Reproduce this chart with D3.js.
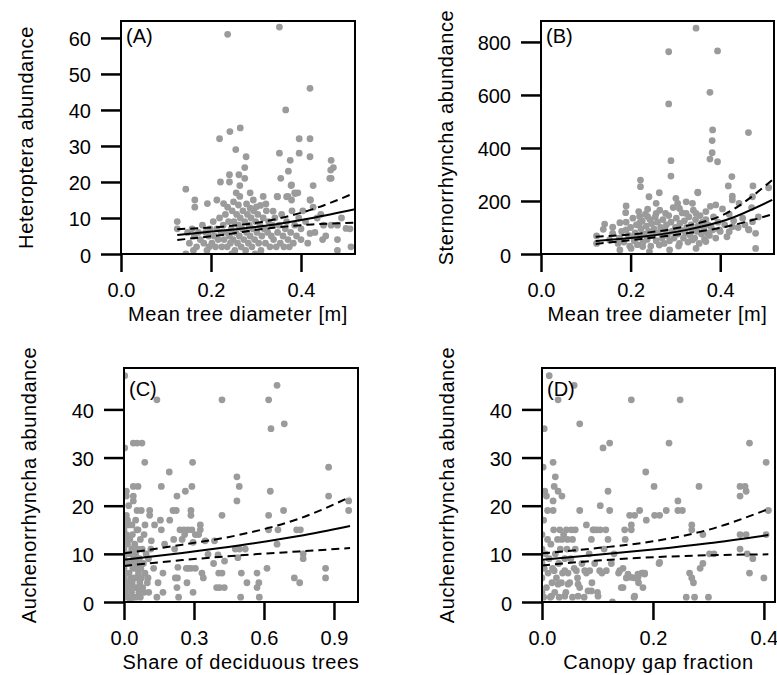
<!DOCTYPE html>
<html><head><meta charset="utf-8">
<script src="https://cdn.jsdelivr.net/npm/d3@7"></script>
<style>
body{margin:0;background:#fff}
text{font-family:"Liberation Sans",Arial,Helvetica,sans-serif;fill:#000}
</style>
</head><body>
<svg id="chart" width="777" height="675"></svg>
<script>
// ---------- Data ----------
const panelLetters = ["(A)", "(B)", "(C)", "(D)"];
const xTitles = ["Mean tree diameter [m]", "Mean tree diameter [m]", "Share of deciduous trees", "Canopy gap fraction"];
const yTitles = ["Heteroptera abundance", "Sternorrhyncha abundance", "Auchenorrhyncha abundance", "Auchenorrhyncha abundance"];

const xTicksA = [0.0, 0.2, 0.4];
const yTicksA = [0, 10, 20, 30, 40, 50, 60];
const xTicksB = [0.0, 0.2, 0.4];
const yTicksB = [0, 200, 400, 600, 800];
const xTicksC = [0.0, 0.3, 0.6, 0.9];
const yTicksC = [0, 10, 20, 30, 40];
const xTicksD = [0.0, 0.2, 0.4];
const yTicksD = [0, 10, 20, 30, 40];

// Panel A: Heteroptera vs mean tree diameter
const pointsA = [
[0.237,61],[0.352,63],[0.420,46],[0.366,40],
[0.219,32],[0.242,34],[0.265,35],[0.352,28],[0.396,32],[0.420,32],
[0.255,29],[0.278,27],[0.376,26],[0.396,28],[0.420,27],[0.467,26],[0.472,24],[0.467,21],
[0.372,23],[0.355,21],[0.275,24],[0.241,22],[0.262,22],[0.275,21],[0.241,20],[0.221,20],[0.264,19],
[0.144,18],[0.378,19],[0.427,19],[0.386,17],[0.393,17],[0.371,16],[0.347,16],[0.420,15],[0.427,13],
[0.164,15],[0.164,13],[0.192,14],[0.213,15],[0.256,17],[0.287,17],[0.294,15],[0.316,16],[0.264,16],[0.250,14.5],
[0.237,13],[0.261,13.6],[0.279,13.9],[0.287,12.7],[0.301,13.1],[0.322,13.9],[0.338,11.9],[0.348,15.9],
[0.379,15],[0.368,15.9],[0.379,19.2],[0.387,16.8],[0.421,15],[0.464,21],[0.466,23.3],
[0.125,9],[0.125,7],[0.467,8],[0.481,8],[0.509,7],[0.431,6],[0.400,7],[0.400,4],[0.448,4],[0.481,4],[0.481,1],[0.511,2],
[0.144,0],[0.246,0],[0.298,0],[0.196,2],[0.161,1],[0.420,5.7],[0.450,8],[0.500,7.1],
[0.148,6],[0.152,3],[0.158,7],[0.163,5],[0.168,2],[0.172,6],[0.176,4],[0.181,8],[0.184,3],[0.188,6],
[0.191,1],[0.195,5],[0.198,7],[0.202,3],[0.205,9],[0.207,5],[0.210,2],[0.213,7],[0.216,4],[0.219,10],
[0.222,6],[0.224,2],[0.227,8],[0.229,4],[0.232,11],[0.234,6],[0.236,2],[0.239,9],[0.241,5],[0.243,3],
[0.245,7],[0.247,12],[0.249,4],[0.251,9],[0.253,1],[0.255,6],[0.257,11],[0.259,3],[0.261,8],[0.263,5],
[0.265,10],[0.267,2],[0.269,7],[0.271,12],[0.273,4],[0.275,9],[0.277,1],[0.279,6],[0.281,11],[0.283,3],
[0.285,8],[0.287,5],[0.289,10],[0.291,2],[0.293,7],[0.295,12],[0.297,4],[0.299,9],[0.302,6],[0.304,11],
[0.306,3],[0.309,8],[0.311,1],[0.313,5],[0.316,10],[0.318,7],[0.321,3],[0.323,12],[0.326,6],[0.328,9],
[0.331,2],[0.334,5],[0.336,8],[0.339,4],[0.342,10],[0.345,2],[0.348,6],[0.351,8],[0.354,3],[0.357,11],
[0.360,5],[0.362,2],[0.365,7],[0.368,9],[0.371,4],[0.374,2],[0.377,6],[0.380,12],[0.383,3],[0.386,8],
[0.390,5],[0.395,10],[0.404,12],[0.410,9],[0.415,3],[0.436,10],[0.444,11],[0.455,5],[0.490,10],[0.228,14],[0.310,13.5]
];
const edgePointsA = [[0.53,31],[0.53,17]];
const fitXA = [0.125, 0.225, 0.325, 0.425, 0.52];
const fitA = [5.3, 6.5, 7.9, 10.0, 12.4];
const upperA = [6.9, 7.6, 9.2, 12.4, 17.0];
const lowerA = [3.9, 5.3, 7.1, 8.2, 8.7];

// Panel B: Sternorrhyncha vs mean tree diameter
const pointsB = [
[0.346,852],[0.285,763],[0.394,766],[0.377,610],[0.285,566],[0.383,468],[0.382,428],[0.382,382],[0.377,358],[0.394,348],
[0.463,458],[0.290,352],[0.290,294],[0.350,233],[0.426,292],[0.418,257],[0.427,218],[0.473,257],[0.508,250],
[0.222,279],[0.222,254],[0.241,216],[0.264,231],[0.190,181],[0.189,156],[0.142,113],[0.139,93],[0.160,101],[0.176,118],
[0.124,40],[0.124,68],[0.220,141],[0.220,116],[0.238,169],[0.238,141],[0.257,191],[0.257,153],[0.278,153],[0.301,210],
[0.305,191],[0.324,197],[0.309,172],[0.338,191],[0.350,231],[0.324,153],[0.346,153],[0.368,160],[0.390,185],
[0.427,204],[0.442,191],[0.472,216],[0.464,91],[0.479,78],[0.479,21],[0.398,91],[0.420,84],[0.427,103],[0.383,91],
[0.368,47],[0.346,21],[0.338,53],[0.309,40],[0.287,15],[0.264,34],[0.242,9],[0.227,28],[0.201,21],[0.176,15],
[0.172,40],[0.153,53],[0.160,78],[0.190,91],[0.205,65],[0.463,93],[0.472,122],[0.450,135],
[0.175,60],[0.180,85],[0.185,45],[0.190,120],[0.195,70],[0.198,30],[0.200,100],[0.205,135],[0.208,50],[0.210,80],
[0.213,110],[0.215,35],[0.218,160],[0.220,65],[0.223,95],[0.226,125],[0.228,45],[0.230,75],[0.233,150],[0.235,105],
[0.237,55],[0.240,85],[0.243,130],[0.245,30],[0.247,115],[0.250,70],[0.252,95],[0.255,140],[0.257,50],[0.260,120],
[0.262,80],[0.265,165],[0.267,100],[0.270,60],[0.272,130],[0.275,40],[0.277,90],[0.280,110],[0.282,70],[0.285,145],
[0.287,50],[0.290,120],[0.292,85],[0.295,175],[0.297,60],[0.300,100],[0.302,135],[0.305,75],[0.307,30],[0.310,115],
[0.312,90],[0.315,155],[0.318,60],[0.320,125],[0.322,80],[0.325,100],[0.328,45],[0.330,140],[0.333,70],[0.335,110],
[0.338,90],[0.340,165],[0.343,60],[0.345,130],[0.348,85],[0.350,105],[0.353,40],[0.355,145],[0.358,75],[0.360,120],
[0.363,95],[0.365,55],[0.368,130],[0.370,80],[0.373,110],[0.376,70],[0.378,180],[0.380,100],[0.385,140],[0.390,60],
[0.395,120],[0.400,85],[0.405,170],[0.410,110],[0.415,65],[0.420,150],[0.430,125],[0.440,100],[0.455,110],[0.470,175],[0.485,140]
];
const edgePointsB = [[0.53,245],[0.53,268],[0.53,194],[0.53,156],[0.53,280]];
const fitXB = [0.122, 0.225, 0.325, 0.413, 0.516];
const fitB = [49, 65, 91, 128, 204];
const upperB = [65, 78, 106, 153, 279];
const lowerB = [38, 57, 78, 103, 150];

// Panel C: Auchenorrhyncha vs share of deciduous trees
const pointsC = [
[0.003,47],[0.141,42],[0.420,42],[0.620,42],[0.656,45],[0.630,36],[0.687,37],[0.003,32],[0.040,33],[0.056,33],[0.077,33],
[0.089,29],[0.194,27],[0.294,29],[0.291,24],[0.263,23],[0.227,22],[0.160,24],[0.010,23],[0.010,22],[0.040,24],[0.060,24],
[0.040,22],[0.040,21],[0.484,26],[0.494,24],[0.484,21],[0.420,18],[0.627,23],[0.620,18],[0.684,19],[0.877,28],[0.877,22],
[0.963,21],[0.963,19],
[0.010,18],[0.056,19],[0.074,19],[0.110,19],[0.210,19],[0.224,19],[0.287,19],[0.287,18],[0.156,17],[0.196,17],[0.110,18],
[0.131,16],[0.086,14],[0.034,16],[0.060,15],[0.240,15],[0.257,15],[0.274,15],[0.291,15],[0.327,15],[0.327,16],[0.306,14],
[0.320,14],[0.260,14],[0.213,13],[0.249,13],[0.160,15],[0.117,12.7],[0.174,12],[0.217,11],[0.296,12.4],[0.348,12.7],
[0.388,12.7],[0.495,11],[0.360,9.9],[0.403,9.8],[0.431,8.5],[0.488,9.2],
[0.620,15],[0.660,15],[0.740,15],[0.756,15],[0.768,10],[0.768,9],[0.730,5],[0.753,4],[0.864,7],[0.864,5],[0.656,12],
[0.613,7],[0.570,6],[0.578,4],[0.570,3],[0.580,1],[0.527,4],[0.503,6],[0.500,1],[0.477,11],[0.406,6],[0.420,6],[0.397,3],
[0.410,3],[0.430,3],[0.384,8],[0.334,6],[0.340,5],[0.296,2],[0.306,7],[0.276,7],[0.288,7],[0.270,4],[0.227,3],[0.234,1],
[0.220,5],[0.167,6],[0.167,2],[0.141,1],[0.106,2],[0.127,7],[0.231,7.2],[0.267,7],[0.229,5],[0.103,5],[0.146,4],[0.520,11],
[0.000,1],[0.000,3],[0.000,5],[0.000,7],[0.000,9],[0.000,11],[0.000,13],[0.000,15],[0.005,2],[0.006,6],[0.008,10],[0.010,14],
[0.012,4],[0.014,8],[0.015,12],[0.016,1],[0.018,16],[0.020,3],[0.022,6],[0.024,10],[0.025,13],[0.027,0.5],[0.028,5],[0.030,8],
[0.032,2],[0.033,11],[0.035,4],[0.036,14],[0.038,7],[0.040,1],[0.042,9],[0.044,5],[0.046,12],[0.047,3],[0.049,7],[0.050,10],
[0.052,1],[0.054,5],[0.056,8],[0.058,3],[0.060,11],[0.062,6],[0.064,2],[0.066,9],[0.068,4],[0.070,1],[0.072,7],[0.075,5],
[0.078,11],[0.080,3],[0.083,8],[0.086,2],[0.090,6],[0.095,10],[0.100,4],[0.105,9],[0.115,11],[0.070,13],[0.055,15],[0.090,16],
[0.020,20],[0.015,17],[0.050,17]
];
const fitXC = [0.0, 0.25, 0.5, 0.75, 0.969];
const fitC = [8.8, 10.2, 11.8, 13.7, 15.8];
const upperC = [10.1, 11.9, 14.0, 17.3, 21.8];
const lowerC = [7.5, 8.7, 9.7, 10.5, 11.2];

// Panel D: Auchenorrhyncha vs canopy gap fraction
const pointsD = [
[0.013,47],[0.058,45],[0.029,42],[0.161,42],[0.249,42],[0.004,36],[0.068,37],[0.110,32],[0.122,33],[0.229,33],[0.374,33],
[0.002,28],[0.020,29],[0.187,27],[0.404,29],[0.024,26],[0.022,24],[0.029,23],[0.036,22],[0.119,23],[0.202,24],[0.283,24],
[0.357,24],[0.357,22],[0.368,23],[0.366,24],[0.005,23],[0.008,22],[0.020,21],[0.020,19],[0.068,19],[0.105,20],[0.122,19],
[0.158,18],[0.167,18],[0.176,19],[0.188,17],[0.203,18],[0.212,18],[0.224,19],[0.245,19],[0.253,19],[0.245,21],[0.408,19],
[0.161,16],[0.149,15],[0.161,15],[0.094,15],[0.099,15],[0.105,15],[0.115,15],[0.270,15],[0.270,16],[0.290,14],[0.357,14],
[0.368,14],[0.404,14],[0.357,11],[0.370,10],[0.380,9],[0.302,10],[0.310,10],[0.290,8],[0.285,7],[0.266,6],[0.270,5],
[0.273,4],[0.260,1],[0.275,1],[0.300,1],[0.211,8],[0.185,6],[0.182,6],[0.180,6],[0.174,4],[0.182,3],[0.166,1],[0.127,0],
[0.146,3],[0.146,7],[0.152,5],[0.167,5],[0.374,6],[0.400,5],[0.080,16],[0.092,15],[0.032,15],[0.044,15],[0.053,15],
[0.060,15],[0.046,13],[0.055,13],[0.089,13],[0.119,13],[0.150,13],[0.212,8.2],[0.036,13],
[0.022,6.5],[0.041,6.5],[0.062,6.5],[0.077,6.5],[0.086,6.5],[0.104,6.5],[0.116,6.5],[0.140,6.5],[0.155,5.8],[0.173,5.8],
[0.185,5.8],[0.029,3.7],[0.047,3.7],[0.065,3.7],[0.089,2.3],[0.017,1.2],[0.041,1.2],[0.065,1.2],[0.101,1.2],[0.167,1.2],
[0.083,2.3],[0.143,3],[0.161,5.1],[0.173,5.1],
[0.000,2],[0.000,5],[0.000,8],[0.000,11],[0.000,14],[0.003,1],[0.004,7],[0.006,10],[0.008,3],[0.010,13],[0.011,6],
[0.013,9],[0.015,1],[0.016,12],[0.018,4],[0.019,7],[0.021,15],[0.023,2],[0.024,10],[0.026,5],[0.028,13],[0.030,8],
[0.031,1],[0.033,11],[0.035,4],[0.037,6],[0.039,14],[0.041,9],[0.043,2],[0.045,11],[0.047,6],[0.050,4],[0.052,9],
[0.055,1],[0.058,7],[0.060,11],[0.064,5],[0.068,3],[0.072,8],[0.076,1],[0.080,6],[0.085,10],[0.090,4],[0.095,8],
[0.100,2],[0.108,6],[0.112,11],[0.125,8],[0.130,10],[0.138,6],[0.003,17],[0.010,19]
];
const fitXD = [0.0, 0.1, 0.2, 0.3, 0.408];
const fitD = [8.8, 9.8, 10.9, 12.2, 13.9];
const upperD = [10.1, 11.2, 12.6, 15.0, 19.3];
const lowerD = [7.6, 8.6, 9.3, 9.7, 9.9];

// ---------- Layout ----------
const panels = [
  {box:[121,21,355,254], xd:[0,0.52], yd:[0,64.7], xt:xTicksA, yt:yTicksA, xf:d3.format(".1f"),
   pts:pointsA, edge:edgePointsA, fx:fitXA, fit:fitA, up:upperA, lo:lowerA, labDy:22},
  {box:[541,21,774,254], xd:[0,0.52], yd:[0,879], xt:xTicksB, yt:yTicksB, xf:d3.format(".1f"),
   pts:pointsB, edge:edgePointsB, fx:fitXB, fit:fitB, up:upperB, lo:lowerB, labDy:22},
  {box:[124,368,358,602], xd:[0,1.003], yd:[0,48.6], xt:xTicksC, yt:yTicksC, xf:d3.format(".1f"),
   pts:pointsC, edge:[], fx:fitXC, fit:fitC, up:upperC, lo:lowerC, labDy:28},
  {box:[542,368,775,602], xd:[0,0.42], yd:[0,48.6], xt:xTicksD, yt:yTicksD, xf:d3.format(".1f"),
   pts:pointsD, edge:[], fx:fitXD, fit:fitD, up:upperD, lo:lowerD, labDy:28}
];

const svg = d3.select("#chart");
const FS = 20;

panels.forEach((p, i) => {
  const [l, t, r, b] = p.box;
  const x = d3.scaleLinear().domain(p.xd).range([l, r]);
  const y = d3.scaleLinear().domain(p.yd).range([b, t]);
  const g = svg.append("g");

  const clipId = "clip" + i;
  svg.append("clipPath").attr("id", clipId)
    .append("rect").attr("x", l).attr("y", t).attr("width", r - l).attr("height", b - t);

  const plot = g.append("g").attr("clip-path", `url(#${clipId})`);
  plot.selectAll("circle.pt").data(p.pts).join("circle")
    .attr("class", "pt")
    .attr("cx", d => x(d[0])).attr("cy", d => y(d[1])).attr("r", 3.4)
    .attr("fill", "#9b9b9b");
  plot.selectAll("circle.edge").data(p.edge).join("circle")
    .attr("class", "edge")
    .attr("cx", d => x(d[0])).attr("cy", d => y(d[1])).attr("r", 3.6)
    .attr("fill", "#6a6a6a");

  const line = d3.line().x(d => x(d[0])).y(d => y(d[1])).curve(d3.curveMonotoneX);
  const mk = arr => p.fx.map((v, k) => [v, arr[k]]);
  plot.append("path").attr("d", line(mk(p.fit))).attr("fill", "none")
    .attr("stroke", "#000").attr("stroke-width", 2);
  [p.up, p.lo].forEach(arr => {
    plot.append("path").attr("d", line(mk(arr))).attr("fill", "none")
      .attr("stroke", "#000").attr("stroke-width", 2).attr("stroke-dasharray", "8,5");
  });

  // box
  g.append("rect").attr("x", l).attr("y", t).attr("width", r - l).attr("height", b - t)
    .attr("fill", "none").attr("stroke", "#000").attr("stroke-width", 2);

  // axes
  const ya = g.append("g").attr("transform", `translate(${l},0)`)
    .call(d3.axisLeft(y).tickValues(p.yt).tickSize(20).tickPadding(10).tickFormat(d3.format("d")));
  const xa = g.append("g").attr("transform", `translate(0,${b})`)
    .call(d3.axisBottom(x).tickValues(p.xt).tickSize(18).tickPadding(11).tickFormat(p.xf));
  [ya, xa].forEach(a => {
    a.select(".domain").remove();
    a.selectAll(".tick line").attr("stroke", "#000").attr("stroke-width", 2.5);
    a.selectAll(".tick text").attr("font-size", FS).attr("fill", "#000")
      .style("font-family", '"Liberation Sans", Arial, sans-serif');
  });
  ya.selectAll(".tick text").attr("dy", "0.4em");

  // panel letter
  g.append("text").attr("x", l + 5).attr("y", t + p.labDy).attr("font-size", FS).text(panelLetters[i]);

  // axis titles
  g.append("text").attr("x", (l + r) / 2).attr("y", b + 67).attr("text-anchor", "middle")
    .attr("font-size", FS).attr("letter-spacing", 0.6).text(xTitles[i]);
  g.append("text").attr("transform", `translate(${l - 88},${(t + b) / 2}) rotate(-90)`)
    .attr("text-anchor", "middle").attr("font-size", FS).attr("letter-spacing", 0.6).text(yTitles[i]);
});
</script>
</body></html>
